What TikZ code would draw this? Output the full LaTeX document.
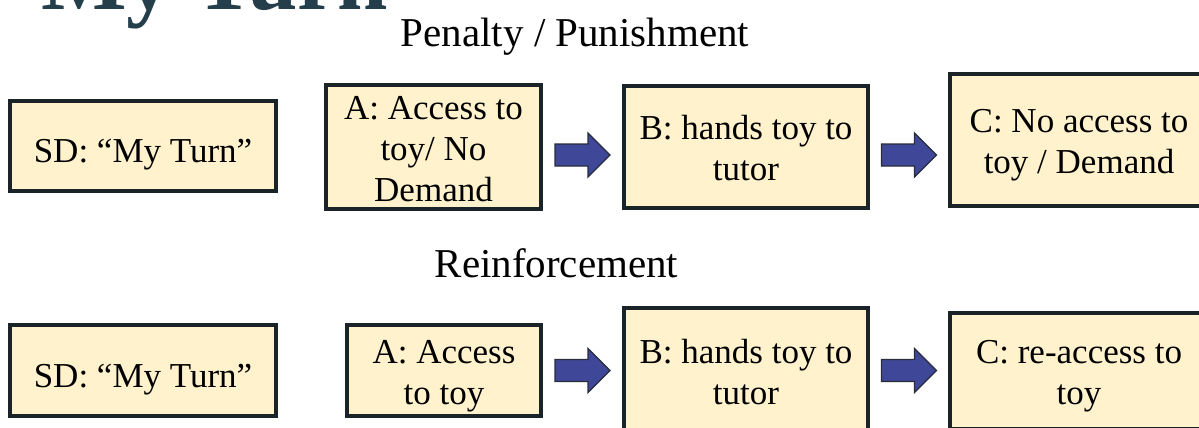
\documentclass[tikz,border=0pt]{standalone}
\usepackage{fontspec}
\setmainfont{Liberation Serif}
\definecolor{boxfill}{RGB}{255,242,204}
\definecolor{boxline}{RGB}{26,36,40}
\definecolor{arrowfill}{RGB}{63,72,152}
\definecolor{arrowline}{RGB}{40,44,60}
\definecolor{titleslate}{RGB}{36,62,76}
% struts that set the room above the first line and below the last one
\newcommand\onestrut{\rule[-0.216em]{0pt}{1.393em}}
\newcommand\firststrut{\rule{0pt}{0.97em}}
\newcommand\laststrut{\rule[-0.216em]{0pt}{0.216em}}

\begin{document}
\begin{tikzpicture}[x=0.75pt,y=-0.75pt,
  stepbox/.style={draw=boxline, fill=boxfill, line width=3pt, inner sep=0pt,
    align=center, anchor=center, font=\fontsize{26.25}{30.75}\selectfont},
  heading/.style={anchor=base, inner sep=0pt, font=\fontsize{30.75}{36}\selectfont},
  blockarrow/.pic={
    \filldraw[fill=arrowfill, draw=arrowline, line width=1pt, line join=miter]
      (-27.5,-11) -- (5.5,-11) -- (5.5,-22) -- (27.5,0) -- (5.5,22)
      -- (5.5,11) -- (-27.5,11) -- cycle;
  }]
\useasboundingbox (0,0) rectangle (1199,428);
\clip (0,0) rectangle (1199,428);

% slide title, cut by the top edge
\node[anchor=base west, inner sep=0pt, text=titleslate,
      font=\fontsize{68}{72}\bfseries\selectfont] (title) at (41,10) {My Turn};

% penalty chain
\node[heading] (h1) at (575,47) {Penalty / Punishment};
\node[stepbox, minimum width=266*0.75pt, minimum height=90*0.75pt]  (sd1) at (143,146) {\onestrut SD: “My Turn”};
\node[stepbox, minimum width=215*0.75pt, minimum height=122*0.75pt] (a1) at (433.5,147) {\firststrut A: Access to\\toy/ No\\Demand\laststrut};
\node[stepbox, minimum width=244*0.75pt, minimum height=122*0.75pt] (b1) at (746,147) {\firststrut B: hands toy to\\tutor\laststrut};
\node[stepbox, minimum width=258*0.75pt, minimum height=131*0.75pt] (c1) at (1079,140) {\firststrut C: No access to\\toy / Demand\laststrut};
\coordinate (m1) at (582.5,155);
\coordinate (m2) at (909,155);
\pic at (m1) {blockarrow};
\pic at (m2) {blockarrow};

% reinforcement chain
\node[heading] (h2) at (556.5,277) {Reinforcement};
\node[stepbox, minimum width=266*0.75pt, minimum height=91*0.75pt]  (sd2) at (143,370.5) {\onestrut SD: “My Turn”};
\node[stepbox, minimum width=194*0.75pt, minimum height=91*0.75pt]  (a2) at (444,370.5) {\firststrut A: Access\\to toy\laststrut};
\node[stepbox, minimum width=244*0.75pt, minimum height=126*0.75pt] (b2) at (746,371) {\firststrut B: hands toy to\\tutor\laststrut};
\node[stepbox, minimum width=258*0.75pt, minimum height=116*0.75pt] (c2) at (1079,371) {\firststrut C: re-access to\\toy\laststrut};
\coordinate (m3) at (582.5,370.5);
\coordinate (m4) at (909,370.5);
\pic at (m3) {blockarrow};
\pic at (m4) {blockarrow};
\end{tikzpicture}
\end{document}
